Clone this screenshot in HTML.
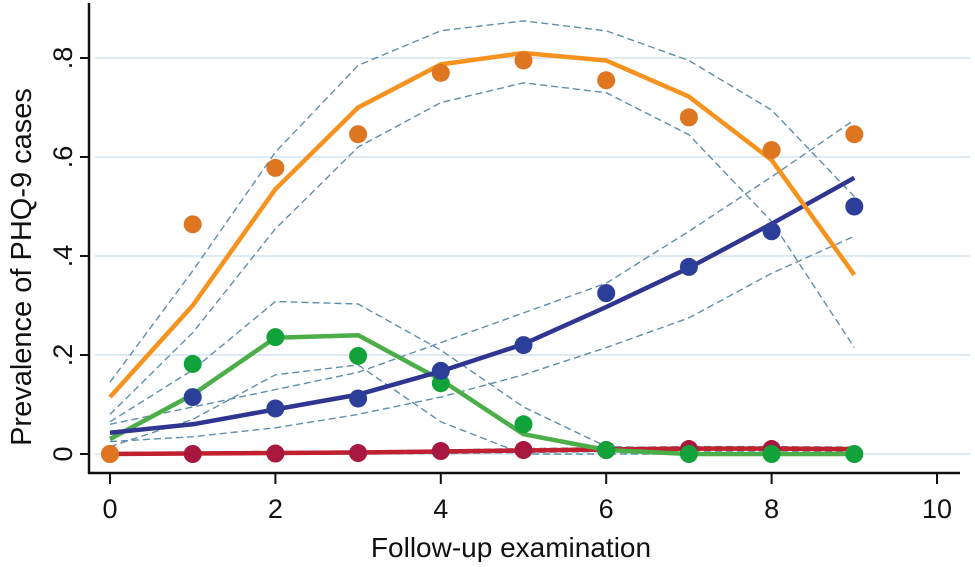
<!DOCTYPE html>
<html><head><meta charset="utf-8"><style>
body{margin:0;background:#fff}
svg text{font-family:"Liberation Sans",Arial,sans-serif;fill:#111}
</style></head><body>
<svg id="chart" width="975" height="562" viewBox="0 0 975 562" xmlns="http://www.w3.org/2000/svg">
<g id="grid"></g>
<g id="ci"></g>
<g id="lines"></g>
<g id="pts"></g>
<g id="axes"></g>
<text transform="translate(31,267) rotate(-90)" text-anchor="middle" font-size="29">Prevalence of PHQ-9 cases</text>
<text x="511" y="557" text-anchor="middle" font-size="28">Follow-up examination</text>
</svg>
<script>
const xs=[0,1,2,3,4,5,6,7,8,9];
const xTicks=[0,2,4,6,8,10];
const yTicks=[0,0.2,0.4,0.6,0.8];
const yTickLabels=["0",".2",".4",".6",".8"];
const orangeFit=[0.115,0.30,0.535,0.70,0.787,0.81,0.795,0.722,0.594,0.362];
const orangeObs=[0,0.464,0.578,0.646,0.77,0.795,0.755,0.68,0.614,0.646];
const orangeHi=[0.145,0.37,0.61,0.785,0.855,0.875,0.855,0.795,0.695,0.52];
const orangeLo=[0.08,0.245,0.455,0.62,0.71,0.75,0.73,0.645,0.47,0.215];
const blueFit=[0.043,0.06,0.09,0.12,0.167,0.222,0.297,0.376,0.465,0.558];
const blueObs=[null,0.115,0.092,0.112,0.168,0.22,0.325,0.378,0.45,0.50];
const blueHi=[0.06,0.095,0.13,0.165,0.225,0.285,0.345,0.45,0.56,0.675];
const blueLo=[0.025,0.035,0.053,0.08,0.115,0.16,0.215,0.275,0.365,0.44];
const greenFit=[0.03,0.12,0.235,0.24,0.15,0.04,0.008,0.0,0.0,0.0];
const greenObs=[null,0.182,0.236,0.198,0.143,0.06,0.008,0,0,0];
const greenHi=[0.065,0.17,0.308,0.303,0.21,0.095,0.015,0.012,0.01,0.008];
const greenLo=[0.015,0.07,0.16,0.18,0.065,0.0,0.0,0.0,0.0,0.0];
const redFit=[0,0.001,0.002,0.003,0.005,0.007,0.009,0.011,0.011,0.01];
const redObs=[null,0,0.001,0.002,0.006,0.008,0.008,0.01,0.01,null];
const redHi=[0.003,0.004,0.005,0.006,0.008,0.011,0.013,0.015,0.015,0.014];
const redLo=[0,0,0,0,0.001,0.003,0.005,0.006,0.006,0.005];

const X=v=>110+82.7*v, Y=v=>454-495*v;
const NS="http://www.w3.org/2000/svg";
function mk(tag,attrs,parent){const e=document.createElementNS(NS,tag);for(const k in attrs)e.setAttribute(k,attrs[k]);document.getElementById(parent).appendChild(e);return e;}
function pathOf(arr){let d="";arr.forEach((v,i)=>{if(v!==null)d+=(d?"L":"M")+X(xs[i]).toFixed(1)+","+Y(v).toFixed(1);});return d;}
yTicks.forEach((t,i)=>{
  const g=mk("line",{x1:95,x2:970,y1:Y(t),y2:Y(t),stroke:"#d6e3ee","stroke-width":1.5},"grid");
  
  
  const tk=mk("line",{x1:80,x2:89,y1:Y(t),y2:Y(t),stroke:"#111","stroke-width":2},"axes");
  
  
  const tx=mk("text",{transform:`translate(72,${Y(t)}) rotate(-90)`,"text-anchor":"middle","font-size":27},"axes");
  tx.textContent=yTickLabels[i];
  
  
});
xTicks.forEach(t=>{
  const tk=mk("line",{x1:X(t),x2:X(t),y1:473,y2:484,stroke:"#111","stroke-width":2},"axes");
  
  
  const tx=mk("text",{x:X(t),y:518,"text-anchor":"middle","font-size":27},"axes");
  tx.textContent=t;
  
  
});
const ya=mk("line",{x1:89,x2:89,y1:3,y2:474,stroke:"#111","stroke-width":2.5},"axes");


const xa=mk("line",{x1:88,x2:960,y1:473,y2:473,stroke:"#111","stroke-width":2.5},"axes");



[orangeHi,orangeLo,blueHi,blueLo,greenHi,greenLo,redHi,redLo].forEach(a=>{
  const p=mk("path",{d:pathOf(a),fill:"none",stroke:"#5f8fa9","stroke-width":1.4,"stroke-dasharray":"7,4"},"ci");
  
  
});
const series=[["red",redFit,redObs,"#c0202f","#a8173e"],["green",greenFit,greenObs,"#4cae48","#11a23a"],["blue",blueFit,blueObs,"#2f3590","#2b3f99"],["orange",orangeFit,orangeObs,"#f6921e","#de7520"]];
series.forEach(([n,fit,obs,lc,pc])=>{
  const p=mk("path",{d:pathOf(fit),fill:"none",stroke:lc,"stroke-width":4.5,"stroke-linejoin":"round"},"lines");
  
  
  obs.forEach((v,i)=>{if(v===null)return;
    const c=mk("circle",{cx:X(xs[i]),cy:Y(v),r:9,fill:pc},"pts");
    
    
  });
});
const c0=mk("circle",{cx:X(0),cy:Y(0),r:9,fill:"#de7520"},"pts");


</script>
</body></html>
